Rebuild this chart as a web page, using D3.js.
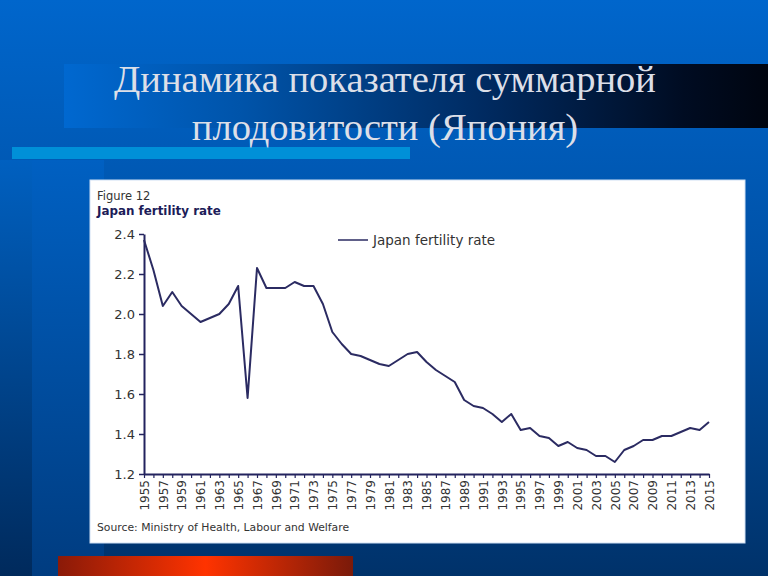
<!DOCTYPE html>
<html>
<head>
<meta charset="utf-8">
<script src="https://cdn.jsdelivr.net/npm/d3@7"></script>
<style>
  html, body { margin: 0; padding: 0; background: #004a99; }
  svg { display: block; }
</style>
</head>
<body>
<svg id="chart" width="768" height="576"></svg>
<script>
// ---- data ----
const years = d3.range(1955, 2016);
const fertilityRate = [
  2.37, 2.22, 2.04, 2.11, 2.04, 2.00, 1.96, 1.98, 2.00, 2.05,
  2.14, 1.58, 2.23, 2.13, 2.13, 2.13, 2.16, 2.14, 2.14, 2.05,
  1.91, 1.85, 1.80, 1.79, 1.77, 1.75, 1.74, 1.77, 1.80, 1.81,
  1.76, 1.72, 1.69, 1.66, 1.57, 1.54, 1.53, 1.50, 1.46, 1.50,
  1.42, 1.43, 1.39, 1.38, 1.34, 1.36, 1.33, 1.32, 1.29, 1.29,
  1.26, 1.32, 1.34, 1.37, 1.37, 1.39, 1.39, 1.41, 1.43, 1.42,
  1.46
];
const yTicks = [1.2, 1.4, 1.6, 1.8, 2.0, 2.2, 2.4];
const titleLines = ["Динамика показателя суммарной", "плодовитости (Япония)"];
const figureLabel = "Figure 12";
const chartTitle = "Japan fertility rate";
const seriesName = "Japan fertility rate";
const sourceText = "Source: Ministry of Health, Labour and Welfare";

const data = years.map((y, i) => ({ year: y, value: fertilityRate[i] }));

const svg = d3.select("#chart");
const defs = svg.append("defs");

// background gradient
const bg = defs.append("linearGradient").attr("id", "bg")
  .attr("x1", 0).attr("y1", 0).attr("x2", 0).attr("y2", 1);
bg.append("stop").attr("offset", "0%").attr("stop-color", "#0066cc");
bg.append("stop").attr("offset", "45%").attr("stop-color", "#0052a8");
bg.append("stop").attr("offset", "100%").attr("stop-color", "#00326a");

const band = defs.append("linearGradient").attr("id", "band")
  .attr("x1", 0).attr("y1", 0).attr("x2", 1).attr("y2", 0);
band.append("stop").attr("offset", "0%").attr("stop-color", "#0068d0");
band.append("stop").attr("offset", "25%").attr("stop-color", "#0054aa");
band.append("stop").attr("offset", "60%").attr("stop-color", "#002a60");
band.append("stop").attr("offset", "88%").attr("stop-color", "#000c22");
band.append("stop").attr("offset", "100%").attr("stop-color", "#000510");

const red = defs.append("linearGradient").attr("id", "red")
  .attr("x1", 0).attr("y1", 0).attr("x2", 1).attr("y2", 0);
red.append("stop").attr("offset", "0%").attr("stop-color", "#8a1a08");
red.append("stop").attr("offset", "50%").attr("stop-color", "#ff3300");
red.append("stop").attr("offset", "100%").attr("stop-color", "#7a1a0a");

const leftStrip = defs.append("linearGradient").attr("id", "lstrip")
  .attr("x1", 0).attr("y1", 0).attr("x2", 0).attr("y2", 1);
leftStrip.append("stop").attr("offset", "0%").attr("stop-color", "#0060c0");
leftStrip.append("stop").attr("offset", "100%").attr("stop-color", "#002a5c");

const midStrip = defs.append("linearGradient").attr("id", "mstrip")
  .attr("x1", 0).attr("y1", 0).attr("x2", 0).attr("y2", 1);
midStrip.append("stop").attr("offset", "0%").attr("stop-color", "#0060c2");
midStrip.append("stop").attr("offset", "100%").attr("stop-color", "#003c80");

// slide background
svg.append("rect").attr("width", 768).attr("height", 576).attr("fill", "url(#bg)");
svg.append("rect").attr("x", 0).attr("y", 160).attr("width", 32).attr("height", 416).attr("fill", "url(#lstrip)");
svg.append("rect").attr("x", 32).attr("y", 160).attr("width", 72).attr("height", 416).attr("fill", "url(#mstrip)");

// title band and bar
svg.append("rect").attr("x", 64).attr("y", 64).attr("width", 704).attr("height", 64).attr("fill", "url(#band)");
svg.append("rect").attr("x", 12).attr("y", 147).attr("width", 398).attr("height", 12).attr("fill", "#0090d8");

// red bar
svg.append("rect").attr("x", 58).attr("y", 556).attr("width", 295).attr("height", 20).attr("fill", "url(#red)");

// title
const title = svg.append("g").attr("font-family", "'Liberation Serif', 'Times New Roman', serif")
  .attr("font-size", 38.5).attr("fill", "#dcdfe8").attr("text-anchor", "middle");
title.append("text").attr("x", 385).attr("y", 92).text(titleLines[0]);
title.append("text").attr("x", 385).attr("y", 140).text(titleLines[1]);

// white panel
svg.append("rect").attr("x", 90).attr("y", 180).attr("width", 655).attr("height", 363)
  .attr("fill", "#ffffff").attr("stroke", "#cfe0f4").attr("stroke-width", 1);

const font = "'DejaVu Sans', Verdana, sans-serif";
const navy = "#23235e";

svg.append("text").attr("x", 97).attr("y", 200).attr("font-family", font)
  .attr("font-size", 11.5).attr("fill", "#333").text(figureLabel);
svg.append("text").attr("x", 97).attr("y", 215).attr("font-family", font)
  .attr("font-size", 11.9).attr("font-weight", "bold").attr("fill", "#1c1c58").text(chartTitle);

// scales
const x = d3.scaleLinear().domain([1955, 2015]).range([144, 709]);
const y = d3.scaleLinear().domain([1.2, 2.4]).range([474, 234]);

// y axis
const yAxis = svg.append("g").attr("transform", `translate(${x(1955)},0)`)
  .call(d3.axisLeft(y).tickValues(yTicks).tickFormat(d3.format(".1f")).tickSize(5).tickSizeOuter(0));
yAxis.select(".domain").attr("stroke", navy).attr("stroke-width", 2);
yAxis.selectAll(".tick line").attr("stroke", navy).attr("stroke-width", 1.5);
yAxis.selectAll(".tick text").attr("font-family", font).attr("font-size", 13).attr("fill", "#333").attr("x", -9);

// x axis
const xAxis = svg.append("g").attr("transform", `translate(0,${y(1.2)})`)
  .call(d3.axisBottom(x).tickValues(years)
    .tickFormat(d => ((d - 1955) % 2 === 0 ? String(d) : ""))
    .tickSize(4).tickSizeOuter(0));
xAxis.select(".domain").attr("stroke", navy).attr("stroke-width", 2);
xAxis.selectAll(".tick line").attr("stroke", navy).attr("stroke-width", 1.2);
xAxis.selectAll(".tick text")
  .attr("font-family", font).attr("font-size", 12).attr("fill", "#333")
  .attr("transform", "rotate(-90)")
  .attr("text-anchor", "end")
  .attr("x", -6).attr("y", 0).attr("dy", "0.36em");

// line
const line = d3.line().x(d => x(d.year)).y(d => y(d.value));
svg.append("path").datum(data).attr("d", line)
  .attr("fill", "none").attr("stroke", "#2b2b62").attr("stroke-width", 2).attr("stroke-linejoin", "round");

// legend
svg.append("line").attr("x1", 338).attr("x2", 368).attr("y1", 240).attr("y2", 240)
  .attr("stroke", "#2b2b62").attr("stroke-width", 1.5);
svg.append("text").attr("x", 373).attr("y", 244.5).attr("font-family", font)
  .attr("font-size", 13.5).attr("fill", "#333").text(seriesName);

// source
svg.append("text").attr("x", 97).attr("y", 531).attr("font-family", font)
  .attr("font-size", 10.8).attr("fill", "#333").text(sourceText);
</script>
</body>
</html>
